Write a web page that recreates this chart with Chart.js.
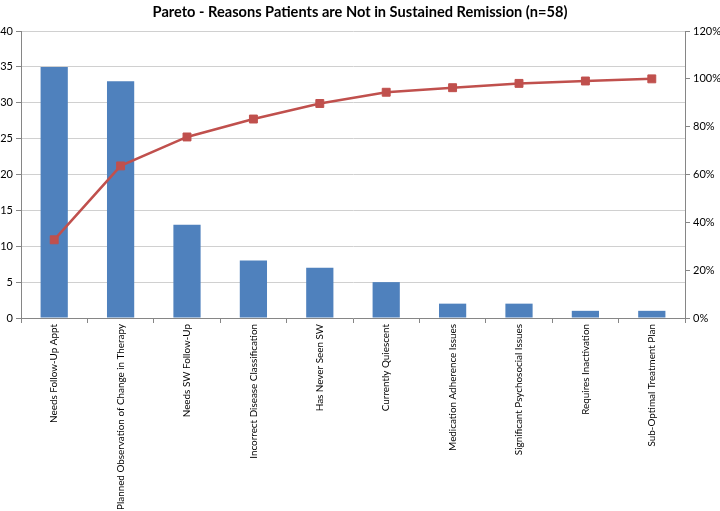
<!DOCTYPE html>
<html>
<head>
<meta charset="utf-8">
<script src="https://cdn.jsdelivr.net/npm/chart.js@4/dist/chart.umd.min.js"></script>
<style>
  html, body { margin: 0; padding: 0; background: #fff; }
</style>
</head>
<body>
<canvas id="pareto" width="720" height="511"></canvas>
<script>
// Datos del gráfico
var reasons = [
    'Needs Follow-Up Appt',
    'Planned Observation of Change in Therapy',
    'Needs SW Follow-Up',
    'Incorrect Disease Classification',
    'Has Never Seen SW',
    'Currently Quiescent',
    'Medication Adherence Issues',
    'Significant Psychosocial Issues',
    'Requires Inactivation',
    'Sub-Optimal Treatment Plan'
];
var counts = [35, 33, 13, 8, 7, 5, 2, 2, 1, 1];
var cumulativePct = [32.7, 63.6, 75.7, 83.2, 89.7, 94.4, 96.3, 98.1, 99.1, 100];

var countTicks = [0, 5, 10, 15, 20, 25, 30, 35, 40];
var pctTicks = [0, 20, 40, 60, 80, 100, 120];

var fuente = 'Lato, "Liberation Sans", sans-serif';

var ctx = document.getElementById('pareto').getContext('2d');
var graficaPareto = new Chart(ctx, {
    type: 'bar',
    data: {
        labels: reasons,
        datasets: [{
            type: 'line',
            label: 'Cumulative %',
            data: cumulativePct,
            yAxisID: 'y1',
            borderColor: '#C0504D',
            backgroundColor: '#C0504D',
            borderWidth: 2.5,
            pointStyle: 'rect',
            pointRadius: 5.6,
            pointBorderWidth: 1,
            tension: 0,
            order: 0
        }, {
            type: 'bar',
            label: 'Count',
            data: counts,
            yAxisID: 'y',
            backgroundColor: '#4F81BD',
            borderWidth: 0,
            barPercentage: 0.82,
            categoryPercentage: 0.5,
            order: 1
        }]
    },
    options: {
        responsive: false,
        animation: false,
        layout: { padding: { left: 0, right: 0, top: 0, bottom: 0 } },
        plugins: {
            legend: { display: false },
            tooltip: { enabled: false },
            title: {
                display: true,
                text: 'Pareto - Reasons Patients are Not in Sustained Remission (n=58)',
                color: '#000',
                font: { family: fuente, size: 14.6, weight: 'bold', lineHeight: 1.2 },
                padding: { top: 4, bottom: 9.5 }
            }
        },
        scales: {
            x: {
                offset: true,
                grid: {
                    offset: true,
                    drawOnChartArea: false,
                    drawTicks: true,
                    tickLength: 5,
                    color: '#868686'
                },
                border: { display: true, color: '#868686' },
                ticks: {
                    autoSkip: false,
                    minRotation: 90,
                    maxRotation: 90,
                    padding: 1,
                    color: '#000',
                    font: { family: fuente, size: 9.9 }
                },
                afterFit: function (scale) { scale.height = 193; }
            },
            y: {
                position: 'left',
                min: 0,
                max: 40,
                afterBuildTicks: function (scale) {
                    scale.ticks = countTicks.map(function (v) { return { value: v }; });
                },
                grid: {
                    color: '#D0D0D0',
                    tickLength: 5,
                    tickColor: '#868686'
                },
                border: { display: true, color: '#868686' },
                ticks: {
                    padding: 3,
                    color: '#000',
                    font: { family: fuente, size: 11 }
                },
                afterFit: function (scale) { scale.width = 21; }
            },
            y1: {
                position: 'right',
                min: 0,
                max: 120,
                afterBuildTicks: function (scale) {
                    scale.ticks = pctTicks.map(function (v) { return { value: v }; });
                },
                grid: {
                    drawOnChartArea: false,
                    tickLength: 5,
                    color: '#868686'
                },
                border: { display: true, color: '#868686' },
                ticks: {
                    padding: 3,
                    color: '#000',
                    font: { family: fuente, size: 11 },
                    callback: function (v) { return v + '%'; }
                },
                afterFit: function (scale) { scale.width = 35; }
            }
        }
    }
});
</script>
</body>
</html>
